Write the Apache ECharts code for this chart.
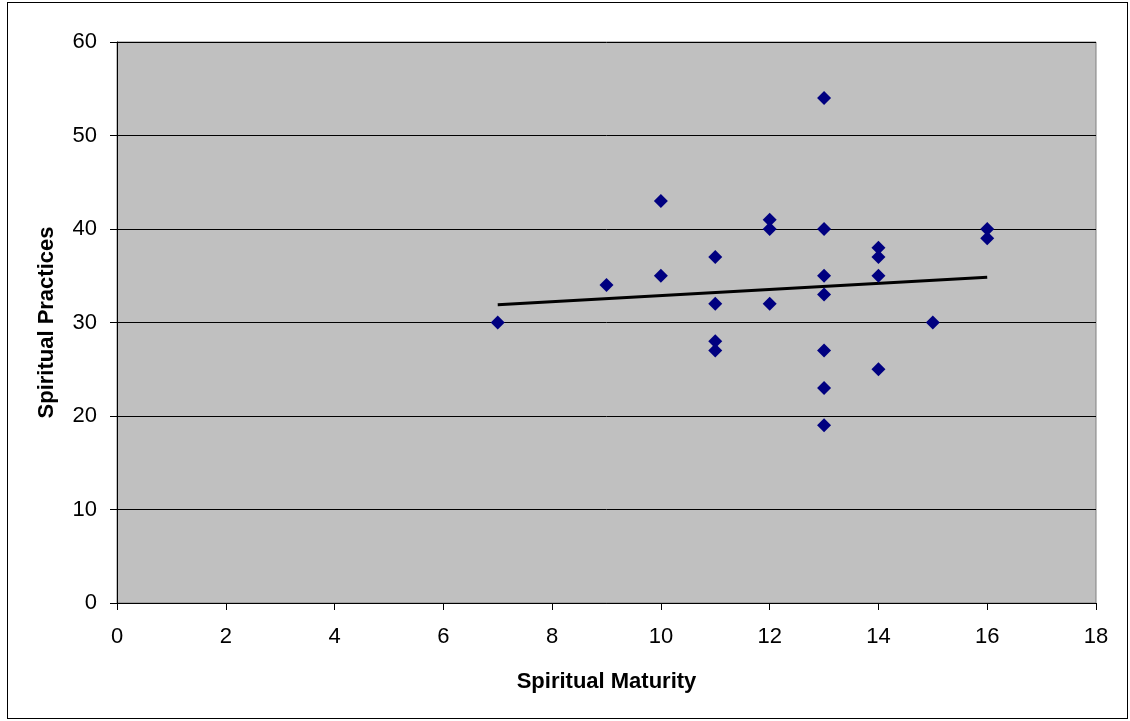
<!DOCTYPE html>
<html>
<head>
<meta charset="utf-8">
<script src="https://cdn.jsdelivr.net/npm/echarts@6/dist/echarts.min.js"></script>
<style>
html,body{margin:0;padding:0;background:#fff;}
#frame{position:absolute;left:7px;top:2px;width:1121px;height:717px;border:1px solid #000;box-sizing:border-box;}
#chart{position:absolute;left:0;top:0;width:1130px;height:721px;}
</style>
</head>
<body>
<div id="frame"></div>
<div id="chart"></div>
<script>
const maturity = [7, 9, 10, 10, 11, 11, 11, 11, 12, 12, 12, 13, 13, 13, 13, 13, 13, 13, 14, 14, 14, 14, 15, 16, 16];
const practices = [30, 34, 43, 35, 37, 32, 28, 27, 41, 40, 32, 54, 40, 35, 33, 27, 23, 19, 38, 37, 35, 25, 30, 40, 39];
const trendX = [7, 16];
const trendY = [31.9, 34.85];
const xTitle = 'Spiritual Maturity';
const yTitle = 'Spiritual Practices';

const points = maturity.map((x, i) => [x, practices[i]]);
const trend = trendX.map((x, i) => [x, trendY[i]]);

const chart = echarts.init(document.getElementById('chart'), null, {renderer: 'canvas'});
chart.setOption({
  animation: false,
  grid: {left: 117, top: 42, width: 979, height: 561, show: true, backgroundColor: '#c0c0c0', borderColor: '#808080', borderWidth: 1},
  xAxis: {
    type: 'value', min: 0, max: 18, interval: 2,
    name: xTitle, nameLocation: 'middle', nameGap: 68,
    nameTextStyle: {fontFamily: 'Liberation Sans, Arial', fontSize: 22, fontWeight: 'bold', color: '#000'},
    axisLine: {show: true, onZero: false, lineStyle: {color: '#000', width: 1}},
    axisTick: {show: true, length: 7, inside: false, lineStyle: {color: '#000'}},
    axisLabel: {fontFamily: 'Liberation Sans, Arial', fontSize: 22, color: '#000', margin: 23},
    splitLine: {show: false}
  },
  yAxis: {
    type: 'value', min: 0, max: 60, interval: 10,
    name: yTitle, nameLocation: 'middle', nameGap: 59, nameRotate: 90,
    nameTextStyle: {fontFamily: 'Liberation Sans, Arial', fontSize: 22, fontWeight: 'bold', color: '#000'},
    axisLine: {show: true, onZero: false, lineStyle: {color: '#000', width: 1}},
    axisTick: {show: true, length: 7, inside: false, lineStyle: {color: '#000'}},
    axisLabel: {fontFamily: 'Liberation Sans, Arial', fontSize: 22, color: '#000', margin: 20},
    splitLine: {show: true, lineStyle: {color: '#000', width: 1}}
  },
  series: [
    {
      type: 'line', data: trend, symbol: 'none', z: 2,
      lineStyle: {color: '#000', width: 3}
    },
    {
      type: 'scatter', data: points, symbol: 'diamond', symbolSize: 14, z: 3,
      itemStyle: {color: '#000080', opacity: 1}
    }
  ]
});
</script>
</body>
</html>
